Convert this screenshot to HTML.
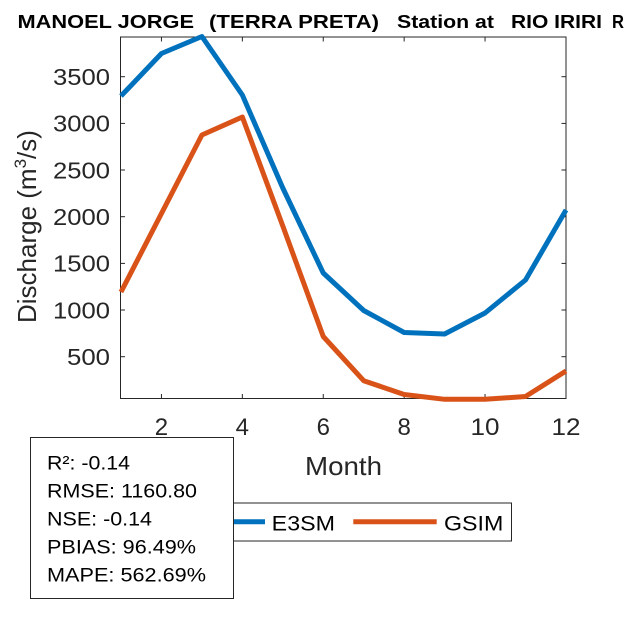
<!DOCTYPE html>
<html>
<head>
<meta charset="utf-8">
<style>
  html,body{margin:0;padding:0;background:#fff;}
  body{width:625px;height:625px;overflow:hidden;}
  svg{display:block;font-family:"Liberation Sans",Arial,sans-serif;}
</style>
</head>
<body>
<svg width="625" height="625" viewBox="0 0 625 625" xmlns="http://www.w3.org/2000/svg">
  <rect x="0" y="0" width="625" height="625" fill="#fff"/>

  <!-- Title -->
  <g font-weight="bold" font-size="18" fill="#000">
    <text x="17.5" y="28" textLength="176.5" lengthAdjust="spacingAndGlyphs">MANOEL JORGE</text>
    <text x="209" y="28" textLength="170" lengthAdjust="spacingAndGlyphs">(TERRA PRETA)</text>
    <text x="397" y="28" textLength="97" lengthAdjust="spacingAndGlyphs">Station at</text>
    <text x="511" y="28" textLength="91" lengthAdjust="spacingAndGlyphs">RIO IRIRI</text>
    <text x="612" y="28" textLength="12" lengthAdjust="spacingAndGlyphs">R</text>
  </g>

  <!-- Axes box -->
  <rect x="120.5" y="37" width="445.5" height="361.5" fill="#fff" stroke="#262626" stroke-width="1"/>

  <!-- ticks -->
  <g stroke="#262626" stroke-width="1">
    <line x1="161.45" y1="398.5" x2="161.45" y2="394"/>
    <line x1="242.35" y1="398.5" x2="242.35" y2="394"/>
    <line x1="323.25" y1="398.5" x2="323.25" y2="394"/>
    <line x1="404.15" y1="398.5" x2="404.15" y2="394"/>
    <line x1="485.05" y1="398.5" x2="485.05" y2="394"/>
    <line x1="161.45" y1="37" x2="161.45" y2="41.5"/>
    <line x1="242.35" y1="37" x2="242.35" y2="41.5"/>
    <line x1="323.25" y1="37" x2="323.25" y2="41.5"/>
    <line x1="404.15" y1="37" x2="404.15" y2="41.5"/>
    <line x1="485.05" y1="37" x2="485.05" y2="41.5"/>
    <line x1="120.5" y1="76.7" x2="125" y2="76.7"/>
    <line x1="120.5" y1="123.4" x2="125" y2="123.4"/>
    <line x1="120.5" y1="170" x2="125" y2="170"/>
    <line x1="120.5" y1="216.7" x2="125" y2="216.7"/>
    <line x1="120.5" y1="263.4" x2="125" y2="263.4"/>
    <line x1="120.5" y1="310" x2="125" y2="310"/>
    <line x1="120.5" y1="356.7" x2="125" y2="356.7"/>
    <line x1="566" y1="76.7" x2="561.5" y2="76.7"/>
    <line x1="566" y1="123.4" x2="561.5" y2="123.4"/>
    <line x1="566" y1="170" x2="561.5" y2="170"/>
    <line x1="566" y1="216.7" x2="561.5" y2="216.7"/>
    <line x1="566" y1="263.4" x2="561.5" y2="263.4"/>
    <line x1="566" y1="310" x2="561.5" y2="310"/>
    <line x1="566" y1="356.7" x2="561.5" y2="356.7"/>
  </g>

  <!-- y tick labels -->
  <g font-size="23" fill="#262626" text-anchor="end">
    <text x="110" y="85" textLength="57" lengthAdjust="spacingAndGlyphs">3500</text>
    <text x="110" y="131.7" textLength="57" lengthAdjust="spacingAndGlyphs">3000</text>
    <text x="110" y="178.3" textLength="57" lengthAdjust="spacingAndGlyphs">2500</text>
    <text x="110" y="225" textLength="57" lengthAdjust="spacingAndGlyphs">2000</text>
    <text x="110" y="271.7" textLength="57" lengthAdjust="spacingAndGlyphs">1500</text>
    <text x="110" y="318.3" textLength="57" lengthAdjust="spacingAndGlyphs">1000</text>
    <text x="110" y="365" textLength="43" lengthAdjust="spacingAndGlyphs">500</text>
  </g>

  <!-- x tick labels -->
  <g font-size="24" fill="#262626" text-anchor="middle">
    <text x="161.45" y="435">2</text>
    <text x="242.35" y="435">4</text>
    <text x="323.25" y="435">6</text>
    <text x="404.15" y="435">8</text>
    <text x="485.05" y="435" textLength="29" lengthAdjust="spacingAndGlyphs">10</text>
    <text x="566" y="435" textLength="29" lengthAdjust="spacingAndGlyphs">12</text>
  </g>

  <!-- x label -->
  <text x="343.5" y="475" font-size="26" fill="#262626" text-anchor="middle" textLength="77" lengthAdjust="spacingAndGlyphs">Month</text>

  <!-- y label -->
  <g transform="translate(36,323) rotate(-90)">
    <text x="0" y="0" font-size="26" fill="#262626">Discharge (m<tspan font-size="17" dy="-10">3</tspan><tspan dy="10">/s)</tspan></text>
  </g>

  <!-- data lines -->
  <polyline fill="none" stroke="#0072BD" stroke-width="5" stroke-linejoin="round"
    points="121,96 161.45,53.5 201.9,36.5 242.35,95 282.8,188 323.25,273 363.7,310.5 404.15,332.5 444.6,334 485.05,313 525.5,280 566,210"/>
  <polyline fill="none" stroke="#D95319" stroke-width="5" stroke-linejoin="round"
    points="121,292 161.45,213.5 201.9,135 242.35,117 282.8,226 323.25,336.5 363.7,380.7 404.15,394.5 444.6,399.3 485.05,399.3 525.5,396.5 566,371"/>

  <!-- legend -->
  <rect x="165.5" y="503" width="346" height="38" fill="#fff" stroke="#262626" stroke-width="1"/>
  <line x1="182" y1="521.7" x2="265" y2="521.7" stroke="#0072BD" stroke-width="5"/>
  <text x="271.7" y="530.5" font-size="21" fill="#000" textLength="63.3" lengthAdjust="spacingAndGlyphs">E3SM</text>
  <line x1="353.3" y1="521.7" x2="436.7" y2="521.7" stroke="#D95319" stroke-width="5"/>
  <text x="444" y="530.5" font-size="21" fill="#000" textLength="59.3" lengthAdjust="spacingAndGlyphs">GSIM</text>

  <!-- stats box -->
  <rect x="30.5" y="437.5" width="203" height="161" fill="#fff" stroke="#262626" stroke-width="1"/>
  <g font-size="19" fill="#000">
    <text x="47" y="469.5" textLength="83" lengthAdjust="spacingAndGlyphs">R²: -0.14</text>
    <text x="47" y="497.5" textLength="150" lengthAdjust="spacingAndGlyphs">RMSE: 1160.80</text>
    <text x="47" y="525.5" textLength="105" lengthAdjust="spacingAndGlyphs">NSE: -0.14</text>
    <text x="47" y="553.5" textLength="149" lengthAdjust="spacingAndGlyphs">PBIAS: 96.49%</text>
    <text x="47" y="581.5" textLength="159" lengthAdjust="spacingAndGlyphs">MAPE: 562.69%</text>
  </g>
</svg>
</body>
</html>
